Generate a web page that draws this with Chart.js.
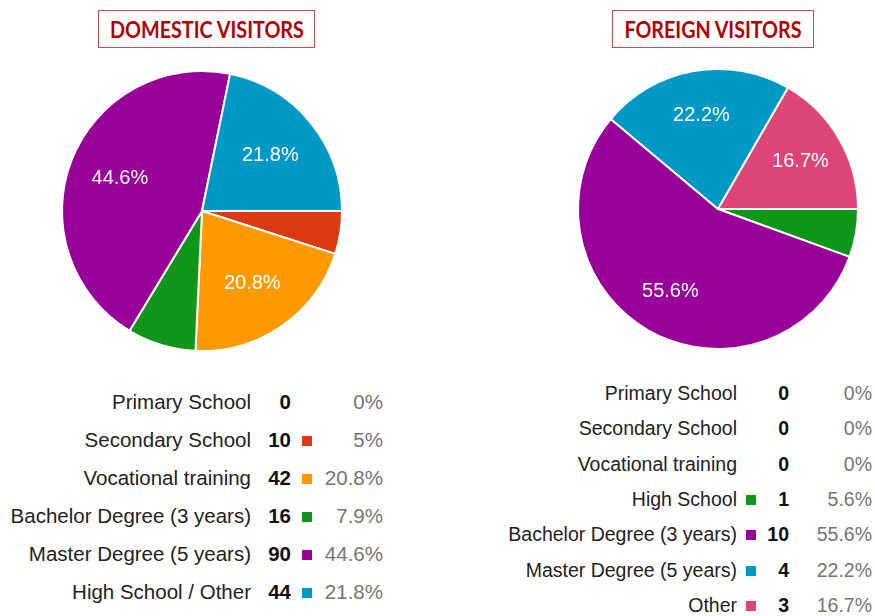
<!DOCTYPE html>
<html>
<head>
<meta charset="utf-8">
<script src="https://cdn.jsdelivr.net/npm/chart.js@4/dist/chart.umd.min.js"></script>
<style>
  html, body { margin:0; padding:0; background:#fff; }
  body { width:875px; height:616px; position:relative; overflow:hidden; font-family:"Liberation Sans", Arial, sans-serif; }
  canvas { position:absolute; top:0; }
  .title { position:absolute; box-sizing:border-box; border:1.5px solid #c0504d; color:#b40000;
           font-family:Lato, "Open Sans", sans-serif; font-weight:bold; font-size:22px;
           display:flex; align-items:center; justify-content:center; overflow:hidden; }
  .title span { display:inline-block; white-space:nowrap; transform-origin:center center; }
  .cell { position:absolute; left:0; text-align:right; white-space:nowrap; }
  .sq { position:absolute; width:10px; height:10px; }
</style>
</head>
<body>
<div class="title" id="t1" style="left:98px;top:10px;width:217px;height:38px;"><span>DOMESTIC VISITORS</span></div>
<div class="title" id="t2" style="left:612px;top:10px;width:202px;height:38px;"><span>FOREIGN VISITORS</span></div>
<canvas id="c1" width="437" height="360" style="left:0px;"></canvas>
<canvas id="c2" width="438" height="360" style="left:437px;"></canvas>
<div id="legends"></div>
<script>
// ---- data ----
const domesticCategories = ["Primary School", "Secondary School", "Vocational training", "Bachelor Degree (3 years)", "Master Degree (5 years)", "High School / Other"];
const domesticValues = [0, 10, 42, 16, 90, 44];
const domesticColors = ["#3366cc", "#dc3912", "#ff9900", "#109618", "#990099", "#0099c6"];

const foreignCategories = ["Primary School", "Secondary School", "Vocational training", "High School", "Bachelor Degree (3 years)", "Master Degree (5 years)", "Other"];
const foreignValues = [0, 0, 0, 1, 10, 4, 3];
const foreignColors = ["#3366cc", "#dc3912", "#ff9900", "#109618", "#990099", "#0099c6", "#dd4477"];

const titles = ["DOMESTIC VISITORS", "FOREIGN VISITORS"];

// ---- helpers ----
function pct(v, total) {
  let s = (v / total * 100).toFixed(1);
  if (s.endsWith(".0")) s = s.slice(0, -2);
  return s + "%";
}

function sliceLabels(factor) {
  return {
    id: 'sliceLabels',
    afterDatasetsDraw(chart) {
      const ctx = chart.ctx;
      const ds = chart.data.datasets[0];
      const total = ds.data.reduce((a, b) => a + b, 0);
      const meta = chart.getDatasetMeta(0);
      ctx.save();
      ctx.fillStyle = "#ffffff";
      ctx.font = '20px "Liberation Sans", Arial, sans-serif';
      ctx.textAlign = "center";
      ctx.textBaseline = "middle";
      meta.data.forEach((arc, i) => {
        const v = ds.data[i];
        if (v / total < 0.1) return;
        const p = arc.getProps(['x', 'y', 'startAngle', 'endAngle', 'outerRadius'], true);
        const mid = (p.startAngle + p.endAngle) / 2;
        const r = p.outerRadius * factor;
        ctx.fillText(pct(v, total), p.x + Math.cos(mid) * r, p.y + Math.sin(mid) * r);
      });
      ctx.restore();
    }
  };
}

function makePie(id, labels, values, colors, padding, factor) {
  new Chart(document.getElementById(id), {
    type: 'pie',
    data: { labels: labels, datasets: [{ data: values, backgroundColor: colors, borderColor: '#ffffff', borderWidth: 2 }] },
    options: {
      responsive: false, animation: false, rotation: 90,
      layout: { padding: padding },
      plugins: { legend: { display: false }, tooltip: { enabled: false } }
    },
    plugins: [sliceLabels(factor)]
  });
}

makePie('c1', domesticCategories, domesticValues, domesticColors, { left: 61, right: 94, top: 70, bottom: 8 }, 0.63);
makePie('c2', foreignCategories, foreignValues, foreignColors, { left: 140, right: 16, top: 68, bottom: 10 }, 0.68);

// ---- legends (HTML tables) ----
const L = document.getElementById('legends');
function cell(text, right, y, size, style) {
  const d = document.createElement('div');
  d.className = 'cell';
  d.textContent = text;
  d.style.width = right + 'px';
  d.style.top = (y - 12) + 'px';
  d.style.lineHeight = '24px';
  d.style.fontSize = size + 'px';
  Object.assign(d.style, style || {});
  L.appendChild(d);
}
function square(color, x, y) {
  const s = document.createElement('div');
  s.className = 'sq';
  s.style.left = x + 'px';
  s.style.top = (y - 5) + 'px';
  s.style.background = color;
  L.appendChild(s);
}

(function () {
  const total = domesticValues.reduce((a, b) => a + b, 0);
  domesticCategories.forEach((c, i) => {
    const y = 402 + i * 38;
    cell(c, 251, y, 20.5, { color: '#222' });
    cell(String(domesticValues[i]), 291, y, 20.5, { color: '#111', fontWeight: 'bold' });
    if (domesticValues[i] > 0) square(domesticColors[i], 302, y + 1);
    cell(pct(domesticValues[i], total), 383, y, 20.5, { color: '#757575' });
  });
})();

(function () {
  const total = foreignValues.reduce((a, b) => a + b, 0);
  foreignCategories.forEach((c, i) => {
    const y = 393 + i * 35.3;
    cell(c, 737, y, 19.5, { color: '#222' });
    if (foreignValues[i] > 0) square(foreignColors[i], 746, y + 1);
    cell(String(foreignValues[i]), 789, y, 19.5, { color: '#111', fontWeight: 'bold' });
    cell(pct(foreignValues[i], total), 872, y, 19.5, { color: '#757575' });
  });
})();

// fit title text widths
[['t1', 194], ['t2', 177]].forEach(([id, w]) => {
  const sp = document.querySelector('#' + id + ' span');
  const cw = sp.getBoundingClientRect().width;
  sp.style.transform = 'scaleX(' + (w / cw) + ')';
});
</script>
</body>
</html>
